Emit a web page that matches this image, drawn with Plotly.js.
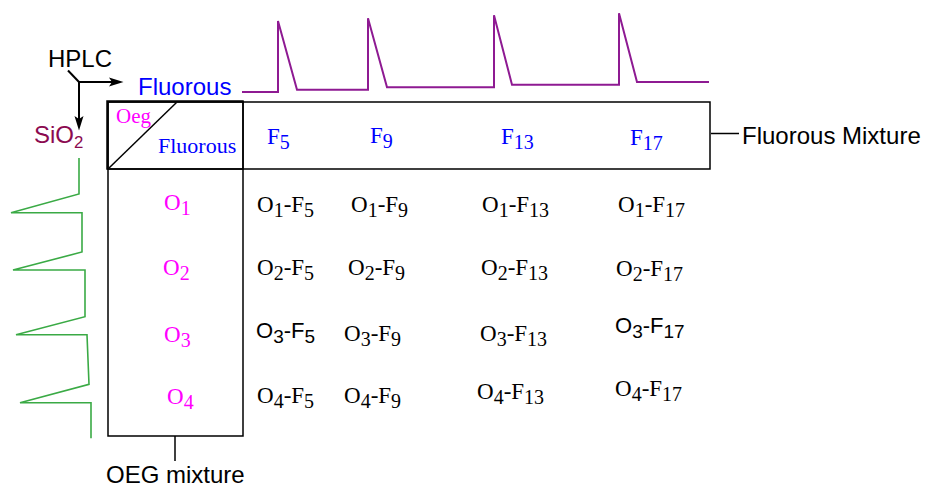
<!DOCTYPE html>
<html>
<head>
<meta charset="utf-8">
<script src="https://cdn.plot.ly/plotly-3.0.1.min.js"></script>
<style>html,body{margin:0;padding:0;background:#fff;}#chart{width:925px;height:484px;}</style>
</head>
<body>
<div id="chart"></div>
<script>
// ---- data ----
const oegMixture = ['O1', 'O2', 'O3', 'O4'];
const fluorousMixture = ['F5', 'F9', 'F13', 'F17'];
// fluorous HPLC trace (purple)
const fluorousTraceX = [242, 278, 278, 297, 368, 368, 387, 494, 494, 512, 619, 619, 637, 709];
const fluorousTraceY = [92, 92, 21, 89.7, 89.7, 18.3, 87.3, 87.3, 15.3, 84.7, 84.7, 13.3, 82, 82];
// SiO2 trace (green)
const silicaTraceX = [79, 79, 11, 82, 82, 13, 85, 85, 16, 87, 89, 20, 91, 91];
const silicaTraceY = [158, 194, 212.7, 212.7, 252, 270, 270, 316.7, 334.7, 334.7, 384.3, 402.7, 402.7, 438.3];

// ---- layout constants ----
const SERIF = '"Liberation Serif", "Times New Roman", serif';
const SANS = '"Liberation Sans", Arial, sans-serif';
const colHeadLeft = [265, 368, 499, 628];
const colHeadMid = [137, 135.5, 136.5, 138];
const rowHeadLeft = [162, 161, 162, 165];
const rowHeadMid = [203, 268, 334.5, 396.5];
const cellLeft = [[255, 349, 480, 616], [255, 346, 479, 614], [254, 342, 478, 613], [255, 342, 475, 613]];
const cellMid = [[205, 205, 205, 205], [268, 268, 268, 269], [331, 334, 334, 326], [396, 396, 392, 389]];
const sansCells = [[2, 0], [2, 3]];
const dyFix = 1.5;

function fmt(s, subSize) {
  return s[0] + '<sub><span style="font-size:' + subSize + 'px">' + s.slice(1) + '</span></sub>';
}

const ann = [];
function txt(text, x, y, font, size, color) {
  ann.push({text: text, x: x, y: y, xref: 'x', yref: 'y', xanchor: 'left', yanchor: 'middle',
    showarrow: false, font: {family: font, size: size, color: color}});
}
txt('HPLC', 46, 58, SANS, 24, '#000');
txt('Fluorous', 136, 86.7, SANS, 24, '#0000ff');
txt('SiO<sub>2</sub>', 32, 136, SANS, 24, '#8b0a50');
txt('Fluorous Mixture', 740, 135.7, SANS, 24, '#000');
txt('OEG mixture', 104, 474, SANS, 24, '#000');
txt('Oeg', 114, 115.5, SERIF, 21, '#ff00ff');
txt('Fluorous', 156, 145, SERIF, 22, '#0000ff');
fluorousMixture.forEach((f, j) => txt(fmt(f, 20), colHeadLeft[j], colHeadMid[j] + dyFix, SERIF, 23, '#0000ff'));
oegMixture.forEach((o, i) => txt(fmt(o, 20), rowHeadLeft[i], rowHeadMid[i] + dyFix, SERIF, 23, '#ff00ff'));
oegMixture.forEach((o, i) => fluorousMixture.forEach((f, j) => {
  const sans = sansCells.some(c => c[0] === i && c[1] === j);
  const sub = sans ? 19 : 20;
  txt(fmt(o, sub) + '-' + fmt(f, sub), cellLeft[i][j], cellMid[i][j] + dyFix, sans ? SANS : SERIF, sans ? 22 : 23, '#000');
}));

const blk = {color: '#000', width: 1.5};
const shapes = [
  {type: 'rect', x0: 108, x1: 710, y0: 102, y1: 169, line: blk},
  {type: 'rect', x0: 108, x1: 243, y0: 102, y1: 436, line: blk},
  {type: 'rect', x0: 107, x1: 243, y0: 101, y1: 169, line: blk},
  {type: 'line', x0: 109, y0: 168, x1: 176.5, y1: 102.5, line: blk},
  {type: 'line', x0: 711, y0: 133.5, x1: 739, y1: 133.5, line: blk},
  {type: 'line', x0: 175, y0: 436, x1: 175, y1: 461, line: blk},
  {type: 'line', x0: 68, y0: 70.5, x1: 79, y1: 82, line: {color: '#000', width: 2}},
  {type: 'line', x0: 78, y0: 82, x1: 112, y1: 82, line: {color: '#000', width: 2}},
  {type: 'line', x0: 79, y0: 81, x1: 79, y1: 119, line: {color: '#000', width: 2}},
  {type: 'path', path: 'M 109,77.5 L 123.5,82 L 109,86.5 L 112,82 Z', fillcolor: '#000', line: {width: 0}},
  {type: 'path', path: 'M 74.5,116 L 79,130.5 L 83.5,116 L 79,119 Z', fillcolor: '#000', line: {width: 0}}
];

const data = [
  {x: fluorousTraceX, y: fluorousTraceY, type: 'scatter', mode: 'lines', line: {color: '#8e1a92', width: 2}, hoverinfo: 'skip'},
  {x: silicaTraceX, y: silicaTraceY, type: 'scatter', mode: 'lines', line: {color: '#3aaa45', width: 1.6}, hoverinfo: 'skip'}
];

const layout = {
  width: 925, height: 484, margin: {l: 0, r: 0, t: 0, b: 0},
  paper_bgcolor: '#fff', plot_bgcolor: '#fff', showlegend: false,
  xaxis: {range: [0, 925], visible: false, fixedrange: true},
  yaxis: {range: [484, 0], visible: false, fixedrange: true},
  shapes: shapes, annotations: ann
};
Plotly.newPlot('chart', data, layout, {displayModeBar: false, staticPlot: true});
</script>
</body>
</html>
